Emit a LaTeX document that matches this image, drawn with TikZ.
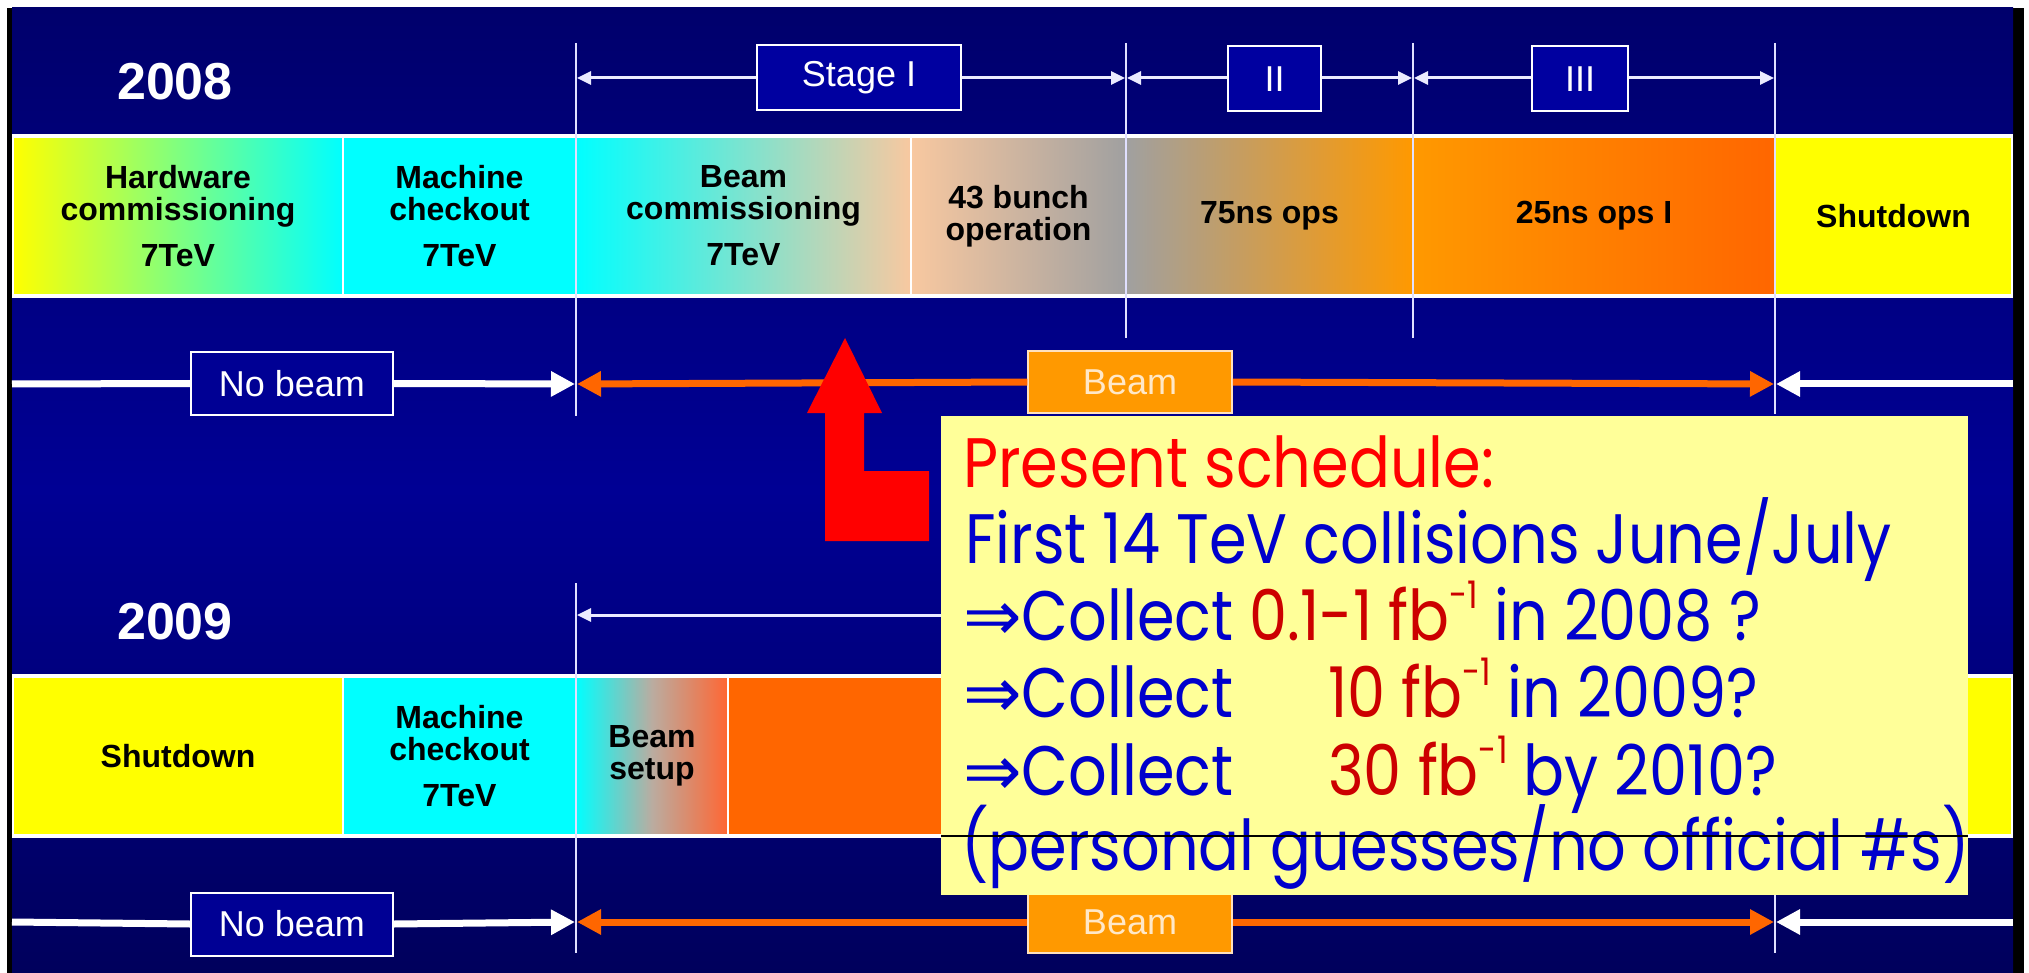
\documentclass[tikz,border=0pt]{standalone}
\usepackage{fontspec}
\setmainfont{Liberation Sans}
\newfontfamily\notefont[FakeStretch=0.865]{Poppins}
\newfontfamily\arrowfont{DejaVu Sans}
\usetikzlibrary{arrows.meta,positioning,calc}
\definecolor{bgtop}{RGB}{0,0,108}
\definecolor{bgmid}{RGB}{0,0,148}
\definecolor{bgbot}{RGB}{0,0,92}
\definecolor{stagefill}{RGB}{0,0,160}
\definecolor{yel}{RGB}{255,255,0}
\definecolor{cyn}{RGB}{0,255,255}
\definecolor{peach}{RGB}{248,200,160}
\definecolor{greyseg}{RGB}{160,160,160}
\definecolor{orA}{RGB}{255,153,0}
\definecolor{orB}{RGB}{255,102,0}
\definecolor{setupend}{RGB}{255,102,51}
\definecolor{beamfill}{RGB}{255,153,0}
\definecolor{beamedge}{RGB}{255,225,190}
\definecolor{beamtext}{RGB}{255,232,200}
\definecolor{notefill}{RGB}{255,255,153}
\definecolor{noteblue}{RGB}{0,0,204}
\definecolor{notered}{RGB}{255,0,0}
\definecolor{notedark}{RGB}{204,0,0}
\definecolor{arrowred}{RGB}{255,0,0}
\newcommand\impl{{\arrowfont ⇒}}
\newcommand\supm[1]{\raisebox{0.45em}{\fontsize{38}{38}\selectfont #1}}
\tikzset{
  >={Triangle[length=14pt,width=13pt]},
  seg/.style={draw=white,line width=1.5pt,minimum height=158pt,inner sep=0pt,
    align=center,text=black,font=\fontsize{32}{32}\selectfont\bfseries},
  year/.style={text=white,inner sep=0pt,font=\fontsize{52}{52}\selectfont\bfseries},
  stage box/.style={draw=white,line width=2pt,fill=stagefill,text=white,
    minimum height=65pt,inner sep=0pt,font=\fontsize{36}{36}\selectfont},
  nobeam box/.style={draw=white,line width=2pt,fill=bgmid,text=white,minimum width=202pt,
    minimum height=63pt,inner sep=0pt,font=\fontsize{36}{36}\selectfont},
  beam box/.style={draw=beamedge,line width=1.5pt,fill=beamfill,text=beamtext,minimum width=204pt,
    minimum height=62pt,inner sep=0pt,font=\fontsize{36}{36}\selectfont},
  bar rim/.style={draw=white,line width=4pt},
  tick/.style={draw=white!88!blue,line width=2pt},
  stage arrow/.style={->,draw=white!92!blue,line width=3pt,shorten >=1pt},
  wide line/.style={draw=#1,line width=7pt},
  wide line/.default=white,
  wide arrow/.style={-{Triangle[length=24pt,width=24pt]},draw=#1,line width=7pt,shorten >=1pt},
  wide arrow/.default=white,
  note line/.style={anchor=base west,inner sep=0pt,text=noteblue,
    font=\notefont\fontsize{70}{77}\selectfont},
}

\begin{document}
\begin{tikzpicture}[x=1pt,y=-1pt]
    \useasboundingbox (0,0) rectangle (2029,973);
    % slide background
    \fill[white] (0,0) rectangle (2029,973);
    \fill[black] (7,8) rectangle (2024,973);
    \shade[top color=bgtop,bottom color=bgbot,middle color=bgmid] (12,8) rectangle (2013,973);

    % 2008
    \node[year] (y08) at (175,81.5) {2008};
    \node[seg,left color=yel,right color=cyn,minimum width=330pt] (hw08) at (178,216) {Hardware\\commissioning\\[14pt]7TeV};
    \node[seg,fill=cyn,minimum width=233pt] (mc08) at (459.5,216) {Machine\\checkout\\[14pt]7TeV};
    \node[seg,left color=cyn,right color=peach,minimum width=335pt] (bc08) at (743.5,216) {Beam\\commissioning\\[14pt]7TeV};
    \node[seg,left color=peach,right color=greyseg,minimum width=215pt] (op08) at (1018.5,216) {43 bunch\\operation};
    \node[seg,left color=greyseg,right color=orA,minimum width=287pt] (ns75) at (1269.5,216) {75ns ops};
    \node[seg,left color=orA,right color=orB,minimum width=362pt] (ns25) at (1594,216) {25ns ops I};
    \node[seg,fill=yel,minimum width=237pt] (sd08) at (1893.5,216) {Shutdown};
    \draw[bar rim] (hw08.north west) -- (sd08.north east);
    \draw[bar rim] (hw08.south west) -- (sd08.south east);

    \foreach \x/\yb [count=\i] in {576/416,1126/338,1413/338,1775/414}{
      \draw[tick] (\x,43) -- (\x,\yb);
      \coordinate (a\i) at (\x,78);
      \coordinate (b\i) at (\x,384);
      \coordinate (c\i) at (\x,615);
      \coordinate (d\i) at (\x,922);
    }

    \node[stage box,minimum width=204pt] (st1) at (859,78) {Stage I};
    \node[stage box,minimum width=93pt] (st2) at (1274.5,79) {II};
    \node[stage box,minimum width=96pt] (st3) at (1580,79) {III};
    \draw[stage arrow] (st1.west) -- (a1);
    \draw[stage arrow] (st1.east) -- (a2);
    \draw[stage arrow] (st2.west |- a2) -- (a2);
    \draw[stage arrow] (st2.east |- a3) -- (a3);
    \draw[stage arrow] (st3.west |- a3) -- (a3);
    \draw[stage arrow] (st3.east |- a4) -- (a4);

    \coordinate (l08) at (12,384);
    \coordinate (r08) at (2013,384);
    \node[nobeam box] (nb08) at (292,383.5) {No beam};
    \node[beam box] (bm08) at (1130,382) {Beam};
    \draw[wide line] (l08) -- (nb08.west);
    \draw[wide arrow] (nb08.east) -- (b1);
    \draw[wide arrow=orB] (bm08.west) -- (b1);
    \draw[wide arrow=orB] (bm08.east) -- (b4);
    \draw[wide arrow] (r08) -- (b4);

    % 2009
    \node[year] (y09) at (175,621.5) {2009};
    \node[seg,fill=yel,minimum width=330pt] (sd09) at (178,756) {Shutdown};
    \node[seg,fill=cyn,minimum width=233pt] (mc09) at (459.5,756) {Machine\\checkout\\[14pt]7TeV};
    \node[seg,left color=cyn,right color=setupend,middle color=greyseg!70!peach,minimum width=152pt] (bs09) at (652,756) {Beam\\setup};
    \node[seg,fill=orB,minimum width=1047pt] (op09) at (1251.5,756) {};
    \node[seg,fill=yel,minimum width=237pt] (sd09b) at (1893.5,756) {};
    \draw[bar rim] (sd09.north west) -- (sd09b.north east);
    \draw[bar rim] (sd09.south west) -- (sd09b.south east);

    \draw[tick] (576,583) -- (576,953);
    \draw[tick] (1775,583) -- (1775,953);
    \draw[stage arrow] (c4) -- (c1);

    \coordinate (l09) at (12,922);
    \coordinate (r09) at (2013,922);
    \node[nobeam box] (nb09) at (292,924) {No beam};
    \node[beam box] (bm09) at (1130,922) {Beam};
    \draw[wide line] (l09) -- (nb09.west);
    \draw[wide arrow] (nb09.east) -- (d1);
    \draw[wide arrow=orB] (bm09.west) -- (d1);
    \draw[wide arrow=orB] (bm09.east) -- (d4);
    \draw[wide arrow] (r09) -- (d4);

    % pointer and note
    \fill[arrowred] (845,338) -- (882,413) -- (864,413) -- (864,471) -- (929,471)
      -- (929,541) -- (825,541) -- (825,413) -- (807,413) -- cycle;
    \node[fill=notefill,minimum width=1027pt,minimum height=479pt,inner sep=0pt] (note) at (1454.5,655.5) {};
    \node[note line,text=notered] (n1) at (963,487) {Present schedule:};
    \node[note line] (n2) at (965,563) {First 14 TeV collisions June/July};
    \node[note line] (n3) at (963,640) {\impl Collect \textcolor{notedark}{0.1-1 fb\supm{-1}} in 2008 ?};
    \node[note line] (n4) at (963,717) {\makebox[365pt][l]{\impl Collect}\textcolor{notedark}{10 fb\supm{-1}} in 2009?};
    \node[note line] (n5) at (963,795) {\makebox[365pt][l]{\impl Collect}\textcolor{notedark}{30 fb\supm{-1}} by 2010?};
    \node[note line] (n6) at (961,870) {(personal guesses/no official \#s)};
    \draw[black,line width=1.5pt] (note.west |- 0,836) -- (note.east |- 0,836);
\end{tikzpicture}
\end{document}
